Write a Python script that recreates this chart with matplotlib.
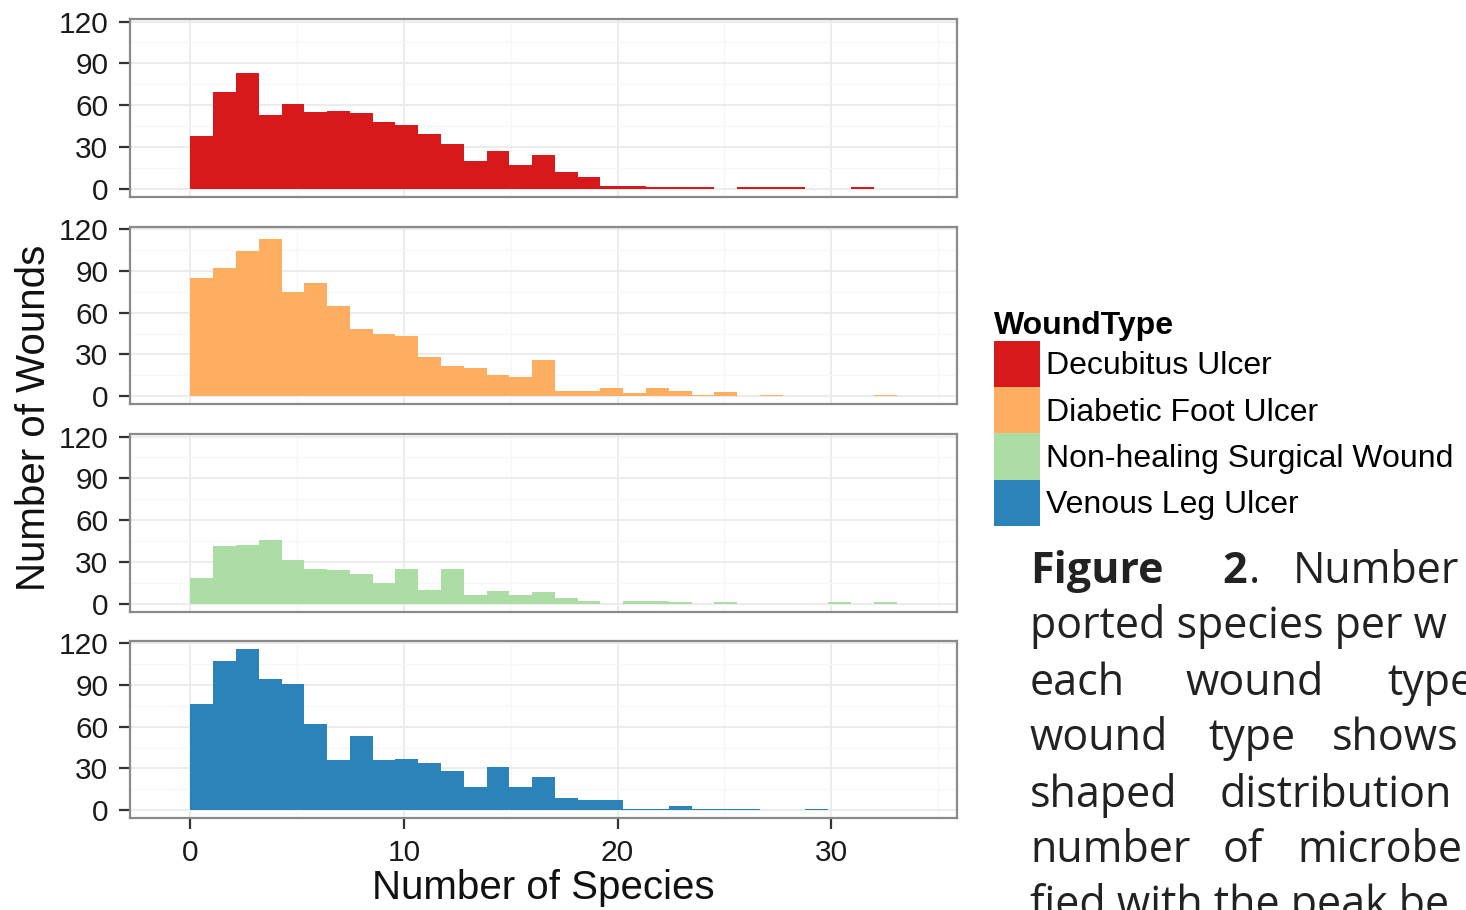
import numpy as np
import matplotlib
matplotlib.use("Agg")
import matplotlib.pyplot as plt
from matplotlib.patches import Patch
from matplotlib.ticker import MultipleLocator, FixedLocator

# ---------------- data ----------------
wound_types = ["Decubitus Ulcer", "Diabetic Foot Ulcer",
               "Non-healing Surgical Wound", "Venous Leg Ulcer"]
colors = ["#D7191C", "#FDAE61", "#ABDDA4", "#2B83BA"]

# counts per histogram bin (bin width = 32/30 species, starting at 0)
decubitus = [38, 69, 83, 53, 61, 55, 56, 54, 48, 46, 39, 32, 20, 27, 17, 24,
             12, 8, 2, 2, 1, 1, 1, 0, 1, 1, 1, 0, 0, 1, 0]
diabetic = [85, 92, 104, 113, 75, 81, 65, 48, 45, 43, 28, 22, 20, 15, 14, 26,
            4, 4, 6, 2, 6, 4, 1, 3, 0, 1, 0, 0, 0, 0, 1]
surgical = [18, 41, 42, 46, 31, 25, 24, 21, 15, 25, 10, 25, 6, 9, 6, 8,
            4, 2, 0, 2, 2, 1, 0, 1, 0, 0, 0, 0, 1, 0, 1]
venous = [76, 107, 116, 94, 91, 62, 36, 53, 36, 37, 34, 28, 17, 31, 17, 24,
          9, 7, 7, 1, 1, 3, 1, 1, 1, 0, 0, 1, 0, 0, 0]
series = [decubitus, diabetic, surgical, venous]

bin_width = 32 / 30
x_ticks = [0, 10, 20, 30]
y_ticks = [0, 30, 60, 90, 120]

# ---------------- figure ----------------
W, H = 1466, 910
fig = plt.figure(figsize=(W / 100, H / 100), dpi=100)
fig.patch.set_facecolor("white")

plt.rcParams["font.family"] = ["Liberation Sans", "DejaVu Sans"]

n_bins = len(decubitus)
edges = np.arange(n_bins) * bin_width
# ggplot-like scale: padded bins + 5% expansion
x_lo, x_hi = -bin_width, (n_bins + 1) * bin_width
xspan = x_hi - x_lo
xlim = (x_lo - 0.05 * xspan, x_hi + 0.05 * xspan)
ymax = max(max(s) for s in series)
ylim = (-0.05 * ymax, 1.05 * ymax)

left_px, right_px = 130, 957
panel_tops = [19, 226.7, 434, 640.7]
panel_h = 177.6

axes = []
for i, (vals, col) in enumerate(zip(series, colors)):
    top = panel_tops[i]
    ax = fig.add_axes([left_px / W, 1 - (top + panel_h) / H,
                       (right_px - left_px) / W, panel_h / H])
    ax.set_axisbelow(True)
    ax.bar(edges, vals, width=bin_width, align="edge", color=col,
           linewidth=0, zorder=2)
    ax.set_xlim(*xlim)
    ax.set_ylim(*ylim)
    ax.xaxis.set_major_locator(FixedLocator(x_ticks))
    ax.yaxis.set_major_locator(FixedLocator(y_ticks))
    ax.xaxis.set_minor_locator(MultipleLocator(5))
    ax.yaxis.set_minor_locator(MultipleLocator(15))
    ax.grid(which="major", color="#EBEBEB", linewidth=1.3, zorder=0)
    ax.grid(which="minor", color="#F7F7F7", linewidth=0.9, zorder=0)
    for sp in ax.spines.values():
        sp.set_color("#8A8A8A")
        sp.set_linewidth(1.6)
        sp.set_zorder(3)
    ax.tick_params(which="minor", length=0)
    ax.tick_params(axis="y", which="major", length=8, width=1.6,
                   color="#333333", labelsize=21.5, pad=7.5,
                   labelcolor="#1A1A1A")
    if i < 3:
        ax.tick_params(axis="x", which="major", length=0, labelbottom=False)
    else:
        ax.tick_params(axis="x", which="major", length=8, width=1.6,
                       color="#333333", labelsize=21.5, pad=7,
                       labelcolor="#1A1A1A")
    axes.append(ax)

fig.text(34 / W, 1 - 418 / H, "Number of Wounds", rotation=90,
         fontsize=29, ha="center", va="center", color="#111111")
fig.text(543 / W, 1 - 888 / H, "Number of Species",
         fontsize=29, ha="center", va="center", color="#111111")

handles = [Patch(facecolor=c, edgecolor="none") for c in colors]
leg = fig.legend(handles, wound_types, loc="upper left",
                 bbox_to_anchor=(994 / W, 1 - 311 / H), frameon=False,
                 title="WoundType",
                 title_fontproperties={"weight": "bold", "size": 23},
                 fontsize=23, handlelength=1.44, handleheight=1.85,
                 handletextpad=0.18, labelspacing=0, borderpad=0,
                 borderaxespad=0, alignment="left")

# caption text from the source page (cut off at the right edge)
caption_font = ["Open Sans", "DejaVu Sans"]
caption_lines = [
    [("Figure", 1030, "bold"), ("2", 1222, "bold"), (".", 1249, "normal"),
     ("Number", 1293, "normal")],
    [("ported species per w", 1030, "normal")],
    [("each", 1030, "normal"), ("wound", 1185, "normal"), ("type", 1387, "normal")],
    [("wound", 1030, "normal"), ("type", 1208, "normal"), ("shows", 1332, "normal")],
    [("shaped", 1030, "normal"), ("distribution", 1220, "normal")],
    [("number", 1030, "normal"), ("of", 1223, "normal"), ("microbe", 1297, "normal")],
    [("fied with the peak be", 1030, "normal")],
]
baselines = [583, 638, 695, 750, 807, 862, 917]
for words, yb in zip(caption_lines, baselines):
    for w, xp, wt in words:
        fig.text(xp / W, 1 - yb / H, w, fontsize=31, fontweight=wt,
                 family=caption_font, ha="left", va="baseline",
                 color="#222222")

fig.savefig("out.png", dpi=100, facecolor="white")
